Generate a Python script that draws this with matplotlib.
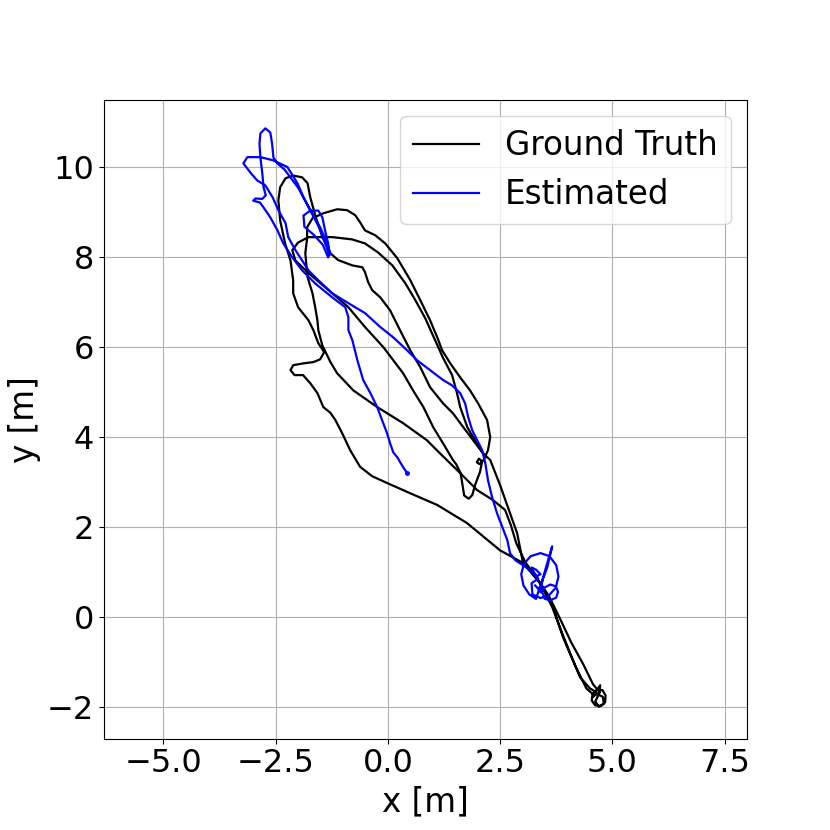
import numpy as np
import matplotlib
matplotlib.use("Agg")
import matplotlib.pyplot as plt

# --- ground truth trajectory (x, y in m) ---
gt_start_loop = [(4.66, -1.62), (4.78, -1.63), (4.85, -1.75), (4.84, -1.90), (4.75, -1.98),
                 (4.62, -1.97), (4.54, -1.86), (4.56, -1.71), (4.68, -1.60), (4.73, -1.52),
                 (4.70, -1.72), (4.62, -1.88), (4.70, -2.00), (4.81, -1.93), (4.79, -1.78),
                 (4.64, -1.70), (4.57, -1.78), (4.62, -1.66)]
gt_up_1 = [(4.50, -1.59), (4.28, -1.34), (4.06, -0.81), (3.83, -0.23), (3.66, 0.22),
           (3.55, 0.44), (3.39, 0.75), (3.17, 1.04), (3.01, 1.20), (2.88, 1.86),
           (2.72, 2.31), (2.50, 2.93), (2.28, 3.49), (2.12, 3.64), (1.90, 3.93),
           (1.68, 4.22), (1.45, 4.53), (1.23, 4.75), (0.94, 5.11), (0.72, 5.56),
           (0.50, 5.93), (0.27, 6.38), (0.05, 6.82), (-0.17, 7.11), (-0.35, 7.27),
           (-0.44, 7.45), (-0.51, 7.67), (-0.57, 7.78), (-0.79, 7.82), (-1.11, 7.94),
           (-1.28, 8.09), (-1.46, 8.45), (-1.62, 8.94), (-1.73, 9.34), (-1.79, 9.65),
           (-1.91, 9.78), (-2.11, 9.82)]
gt_down_1 = [(-2.28, 9.76), (-2.40, 9.56), (-2.44, 9.27), (-2.40, 8.82), (-2.29, 8.31),
             (-2.17, 7.93), (-2.11, 7.49), (-2.11, 7.20), (-2.00, 6.89), (-1.77, 6.60),
             (-1.66, 6.38), (-1.55, 6.09), (-1.42, 5.89), (-1.51, 5.73), (-1.66, 5.67),
             (-1.89, 5.64), (-2.11, 5.60), (-2.17, 5.49), (-2.08, 5.38), (-1.89, 5.38),
             (-1.73, 5.20), (-1.57, 4.98), (-1.44, 4.67), (-1.28, 4.54), (-1.17, 4.38),
             (-1.02, 4.09), (-0.84, 3.71), (-0.62, 3.34), (-0.35, 3.13), (-0.02, 2.98),
             (0.50, 2.75), (1.10, 2.49), (1.76, 2.09), (2.50, 1.48), (3.01, 1.20),
             (3.39, 0.75), (3.68, 0.22), (3.90, -0.45), (4.17, -1.08), (4.42, -1.59),
             (4.60, -1.75), (4.72, -1.68)]
gt_up_2 = [(4.57, -1.50), (4.35, -1.05), (4.08, -0.56), (3.83, -0.03), (3.59, 0.46),
           (3.32, 0.86), (3.06, 1.22), (2.86, 1.64), (2.74, 2.04), (2.61, 2.38),
           (2.34, 2.60), (1.99, 2.82), (1.61, 3.20), (1.16, 3.64), (0.87, 3.93),
           (0.34, 4.31), (-0.24, 4.67), (-0.77, 5.04), (-1.13, 5.42), (-1.28, 5.67),
           (-1.46, 6.04), (-1.55, 6.38), (-1.57, 6.60), (-1.62, 6.89), (-1.68, 7.20),
           (-1.79, 7.56), (-1.84, 8.09), (-1.80, 8.42), (-1.80, 8.67), (-1.68, 8.87),
           (-1.44, 8.98), (-1.13, 9.07), (-0.91, 9.05), (-0.73, 8.94), (-0.62, 8.78),
           (-0.51, 8.60), (-0.28, 8.49), (-0.06, 8.31), (0.21, 7.98), (0.50, 7.49),
           (0.72, 7.05), (0.94, 6.60), (1.10, 6.22), (1.21, 5.93), (1.39, 5.64),
           (1.61, 5.33), (1.83, 5.04), (2.01, 4.75), (2.21, 4.38), (2.28, 4.00),
           (2.23, 3.71), (2.14, 3.50), (2.04, 3.40), (1.98, 3.44), (2.03, 3.52),
           (2.10, 3.46), (2.05, 3.22), (1.94, 2.93), (1.88, 2.71), (1.80, 2.63),
           (1.70, 2.70), (1.66, 2.95), (1.62, 3.20), (1.52, 3.40), (1.45, 3.49)]
gt_last = [(1.23, 3.86), (1.01, 4.22), (0.79, 4.67), (0.56, 5.04), (0.34, 5.42),
           (0.12, 5.71), (-0.10, 6.00), (-0.51, 6.45), (-0.88, 6.89), (-1.24, 7.20),
           (-1.77, 7.65), (-2.06, 7.93), (-2.13, 8.16), (-2.00, 8.33), (-1.77, 8.45),
           (-1.24, 8.45), (-0.80, 8.40), (-0.51, 8.31), (-0.22, 8.11), (0.10, 7.82),
           (0.39, 7.42), (0.61, 7.05), (0.83, 6.65), (1.05, 6.16), (1.23, 5.76),
           (1.43, 5.38), (1.54, 4.98), (1.61, 4.67), (1.77, 4.22), (1.94, 3.93),
           (2.12, 3.64)]

# --- estimated trajectory ---
est_start_cluster = [(3.28, 0.70), (3.45, 0.52), (3.50, 0.40), (3.62, 0.37), (3.75, 0.43),
                     (3.79, 0.56), (3.74, 0.68), (3.62, 0.72), (3.50, 0.66), (3.40, 0.55),
                     (3.45, 0.85), (3.55, 1.20), (3.66, 1.57), (3.55, 1.10), (3.38, 0.65),
                     (3.30, 0.40), (3.15, 0.50), (3.02, 0.70), (2.97, 0.95), (3.03, 1.18),
                     (3.18, 1.35), (3.40, 1.42), (3.60, 1.35), (3.75, 1.15), (3.80, 0.90),
                     (3.74, 0.65), (3.58, 0.47), (3.40, 0.42), (3.22, 0.50), (3.20, 0.75),
                     (3.35, 0.85), (3.25, 1.00), (3.20, 1.10), (3.30, 1.05), (3.40, 0.95),
                     (3.30, 0.90)]
est_up = [(3.17, 1.04), (3.01, 1.15), (2.84, 1.26), (2.72, 1.42), (2.66, 1.71),
          (2.43, 2.31), (2.32, 2.67), (2.23, 3.04), (2.17, 3.42), (2.10, 3.71),
          (1.99, 3.93), (1.88, 4.15), (1.79, 4.44), (1.72, 4.75), (1.61, 4.98),
          (1.43, 5.15), (1.23, 5.27), (0.94, 5.49), (0.65, 5.71), (0.43, 5.93),
          (0.12, 6.22), (-0.17, 6.45), (-0.51, 6.76), (-0.88, 6.98), (-1.24, 7.20),
          (-1.55, 7.49), (-1.77, 7.71), (-1.91, 7.93), (-2.06, 8.16), (-2.22, 8.45),
          (-2.28, 8.76), (-2.44, 9.05), (-2.57, 9.34), (-2.73, 9.60)]
est_top = [(-2.91, 9.71), (-3.05, 9.87), (-3.22, 10.09), (-3.13, 10.23), (-2.84, 10.23),
           (-2.56, 10.16), (-2.24, 10.01), (-2.12, 9.82), (-2.01, 9.64), (-1.88, 9.33),
           (-1.73, 9.04), (-1.51, 8.67), (-1.35, 8.31), (-1.29, 8.11), (-1.33, 8.00),
           (-1.45, 8.28), (-1.65, 8.50), (-1.86, 8.68), (-1.88, 8.93), (-1.73, 9.04),
           (-1.55, 9.04), (-1.46, 8.89), (-1.40, 8.60), (-1.33, 8.31), (-1.30, 8.05),
           (-1.50, 8.60), (-1.75, 9.10), (-2.00, 9.55), (-2.30, 9.95), (-2.46, 10.09),
           (-2.55, 10.22), (-2.58, 10.53), (-2.62, 10.78), (-2.73, 10.87), (-2.84, 10.76),
           (-2.86, 10.53), (-2.84, 10.22), (-2.80, 9.89), (-2.77, 9.56), (-2.72, 9.38),
           (-2.80, 9.30), (-2.95, 9.31), (-3.00, 9.26), (-2.85, 9.22)]
est_down = [(-2.77, 9.11), (-2.62, 8.89), (-2.46, 8.60), (-2.33, 8.31), (-2.13, 8.00),
            (-1.91, 7.71), (-1.62, 7.42), (-1.24, 7.11), (-0.95, 6.89), (-0.88, 6.67),
            (-0.88, 6.38), (-0.79, 6.15), (-0.68, 5.71), (-0.55, 5.27), (-0.39, 4.98),
            (-0.24, 4.67), (-0.13, 4.38), (-0.02, 4.09), (0.05, 3.86), (0.12, 3.66),
            (0.21, 3.55), (0.34, 3.33), (0.43, 3.20)]

gt = np.array(gt_start_loop + gt_up_1 + gt_down_1 + gt_up_2 + gt_last)
est = np.array(est_start_cluster + est_up + est_top + est_down)

fig = plt.figure(figsize=(8.3, 8.3), dpi=100)
ax = fig.add_subplot(111)
ax.plot(gt[:, 0], gt[:, 1], 'k-', lw=1.6, label='Ground Truth')
ax.plot(est[:, 0], est[:, 1], 'b-', lw=1.6, label='Estimated')
# little end blob on the estimate
ax.plot(est[-1, 0], est[-1, 1], 'b.', markersize=5)

ax.set_xlim(-6.33, 8.0)
ax.set_ylim(-2.71, 11.51)
ax.set_xlabel('x [m]', fontsize=23.5)
ax.set_ylabel('y [m]', fontsize=23.5)
ax.tick_params(labelsize=23)
ax.grid(True)
ax.legend(loc='upper right', fontsize=23.5)

fig.savefig('out.png', dpi=100)
